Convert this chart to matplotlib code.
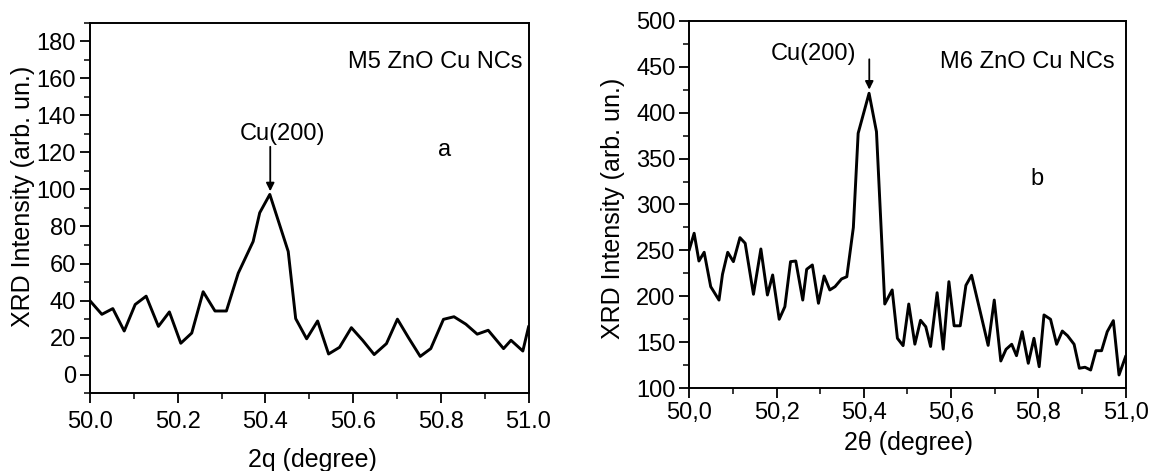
import matplotlib
matplotlib.use("Agg")
import matplotlib.pyplot as plt
from matplotlib.ticker import MultipleLocator, FuncFormatter

plt.rcParams['font.family'] = ['Liberation Sans', 'DejaVu Sans']

# panel a : M5 ZnO Cu NCs
theta_a = [50.000, 50.027, 50.052, 50.078, 50.103, 50.128, 50.156, 50.181, 50.207, 50.232,
           50.258, 50.285, 50.311, 50.338, 50.372, 50.387, 50.410, 50.452, 50.469, 50.494,
           50.519, 50.544, 50.569, 50.596, 50.622, 50.648, 50.676, 50.701, 50.726, 50.753,
           50.777, 50.806, 50.830, 50.857, 50.883, 50.908, 50.943, 50.960, 50.987, 51.000]
int_a = [39.9, 32.6, 35.7, 23.6, 37.9, 42.4, 26.1, 33.9, 17.0, 22.5,
         44.8, 34.4, 34.4, 54.8, 71.9, 87.4, 97.3, 66.5, 30.3, 19.4,
         29.0, 11.2, 14.8, 25.4, 18.5, 10.9, 16.8, 30.0, 20.1, 9.9,
         14.1, 29.9, 31.3, 27.3, 21.9, 24.0, 14.1, 18.6, 12.8, 25.8]

# panel b : M6 ZnO Cu NCs
theta_b = [50.000, 50.011, 50.022, 50.034, 50.049, 50.068, 50.076, 50.088, 50.101, 50.116,
           50.128, 50.147, 50.164, 50.179, 50.191, 50.206, 50.219, 50.232, 50.244, 50.260,
           50.269, 50.282, 50.296, 50.309, 50.322, 50.334, 50.349, 50.361, 50.376, 50.387,
           50.412, 50.429, 50.448, 50.465, 50.477, 50.490, 50.503, 50.517, 50.530, 50.542,
           50.553, 50.568, 50.582, 50.595, 50.607, 50.621, 50.634, 50.647, 50.666, 50.685,
           50.699, 50.714, 50.726, 50.739, 50.750, 50.763, 50.777, 50.790, 50.802, 50.813,
           50.828, 50.842, 50.855, 50.867, 50.882, 50.894, 50.907, 50.920, 50.932, 50.945,
           50.958, 50.972, 50.985, 51.000]
int_b = [251, 268.7, 238.5, 248, 210.6, 196, 224, 248, 237.8, 263.9,
         257.8, 202.3, 251.6, 201.5, 223.3, 175.1, 188.8, 237.8, 238.5, 196,
         229.5, 234.2, 192.5, 222.2, 207, 210.6, 219, 221.4, 275, 377.5,
         421, 379.2, 191.7, 207, 154.4, 146.4, 191.7, 148, 174, 167,
         145.5, 204, 142.6, 216, 168, 168, 212, 223, 185, 146.7,
         196, 129.7, 142.4, 147.9, 135.5, 161.6, 127.2, 154.4, 123.5, 179.8,
         175.1, 147.9, 162.3, 157.2, 147.9, 121.8, 122.9, 119.9, 140.9, 140.9,
         161.6, 173.6, 114.5, 134.4]

tick_fs = 17
label_fs = 18
text_fs = 17

fig = plt.figure(figsize=(11.51, 4.71), dpi=100)
ax1 = fig.add_axes([0.0782, 0.165, 0.381, 0.787])
ax2 = fig.add_axes([0.5989, 0.1756, 0.379, 0.7805])

for ax in (ax1, ax2):
    for s in ax.spines.values():
        s.set_linewidth(1.4)
    ax.tick_params(which='major', direction='out', length=7, width=1.3,
                   labelsize=tick_fs, pad=3)
    ax.tick_params(which='minor', direction='out', length=4, width=1.1)
    ax.tick_params(top=False, right=False)
    ax.set_xlim(50.0, 51.0)
    ax.xaxis.set_major_locator(MultipleLocator(0.2))
    ax.xaxis.set_minor_locator(MultipleLocator(0.1))

# ---- a
ax1.plot(theta_a, int_a, color='black', lw=2.1)
ax1.set_ylim(-10, 190)
ax1.yaxis.set_major_locator(MultipleLocator(20))
ax1.yaxis.set_minor_locator(MultipleLocator(10))
ax1.xaxis.set_major_formatter(FuncFormatter(lambda v, p: f"{v:.1f}"))
ax1.set_ylabel('XRD Intensity (arb. un.)', fontsize=label_fs)
ax1.set_xlabel('2q (degree)', fontsize=label_fs)
ax1.yaxis.set_label_coords(-0.153, 0.53)
ax1.xaxis.set_label_coords(0.508, -0.18)
ax1.yaxis.label.set_va('center')
ax1.xaxis.label.set_va('center')
ax1.tick_params(axis='x', pad=6)
ax1.text(0.987, 0.895, 'M5 ZnO Cu NCs', transform=ax1.transAxes,
         ha='right', va='center', fontsize=text_fs)
ax1.text(50.438, 130, 'Cu(200)', ha='center', va='center', fontsize=text_fs)
ax1.text(50.809, 121, 'a', ha='center', va='center', fontsize=text_fs)
ax1.annotate('', xy=(50.411, 99), xytext=(50.411, 123),
             arrowprops=dict(arrowstyle='-|>', color='black', lw=1.3,
                             mutation_scale=12, shrinkA=0, shrinkB=0))

# ---- b
ax2.plot(theta_b, int_b, color='black', lw=2.1)
ax2.set_ylim(100, 500)
ax2.yaxis.set_major_locator(MultipleLocator(50))
ax2.yaxis.set_minor_locator(MultipleLocator(25))
ax2.xaxis.set_major_formatter(FuncFormatter(lambda v, p: f"{v:.1f}".replace('.', ',')))
ax2.set_ylabel('XRD Intensity (arb. un.)', fontsize=label_fs)
ax2.set_xlabel('2\u03b8 (degree)', fontsize=label_fs)
ax2.yaxis.set_label_coords(-0.175, 0.49)
ax2.xaxis.set_label_coords(0.503, -0.149)
ax2.yaxis.label.set_va('center')
ax2.xaxis.label.set_va('center')
ax2.text(0.975, 0.888, 'M6 ZnO Cu NCs', transform=ax2.transAxes,
         ha='right', va='center', fontsize=text_fs)
ax2.text(50.285, 464, 'Cu(200)', ha='center', va='center', fontsize=text_fs)
ax2.text(50.796, 328, 'b', ha='center', va='center', fontsize=text_fs)
ax2.annotate('', xy=(50.4125, 425), xytext=(50.4125, 458),
             arrowprops=dict(arrowstyle='-|>', color='black', lw=1.3,
                             mutation_scale=12, shrinkA=0, shrinkB=0))

fig.savefig('out.png', dpi=100)
